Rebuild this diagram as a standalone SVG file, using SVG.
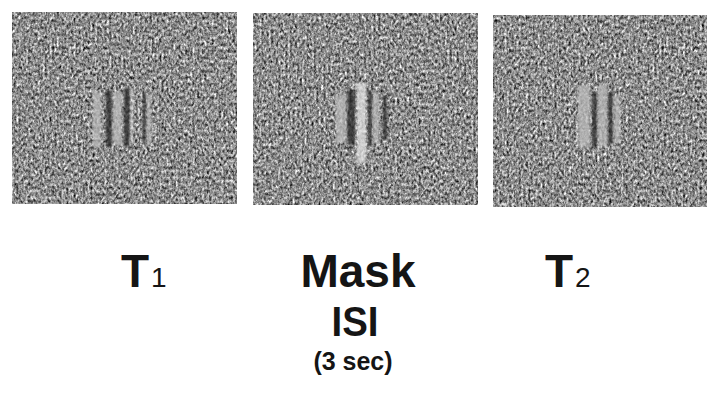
<svg xmlns="http://www.w3.org/2000/svg" width="707" height="405" viewBox="0 0 707 405">
<style>
.lbl{font-family:"Liberation Sans",Arial,Helvetica,sans-serif;font-weight:bold;fill:#151515;}
.sub{font-family:"Liberation Sans",Arial,Helvetica,sans-serif;font-weight:normal;fill:#151515;}
.dk{fill:#262626;}
.lt{fill:#bdbdbd;}
.wh{fill:#e6e6e6;}
</style>
<defs>
<filter id="noise" x="0" y="0" width="100%" height="100%" color-interpolation-filters="sRGB">
<feTurbulence type="fractalNoise" baseFrequency="0.42 0.3" numOctaves="3" seed="11"/>
<feColorMatrix type="matrix" values="0.34 0.33 0.33 0 0  0.34 0.33 0.33 0 0  0.34 0.33 0.33 0 0  0 0 0 0 1"/>
<feComponentTransfer>
<feFuncR type="linear" slope="2.1" intercept="-0.5"/>
<feFuncG type="linear" slope="2.1" intercept="-0.5"/>
<feFuncB type="linear" slope="2.1" intercept="-0.5"/>
<feFuncA type="linear" slope="0" intercept="1"/>
</feComponentTransfer>
</filter>
<filter id="soft" x="-50%" y="-10%" width="200%" height="120%">
<feGaussianBlur stdDeviation="1.1"/>
</filter>
</defs>
<rect width="707" height="405" fill="#ffffff"/>

<g id="panel-t1">
<rect x="12" y="12" width="225" height="192" fill="#8a8a8a" filter="url(#noise)"/>
<g filter="url(#soft)" opacity="0.75">
<rect class="lt" x="93" y="92" width="8" height="55"/>
<rect class="dk" x="106" y="90" width="6" height="57"/>
<rect class="lt" x="113" y="92" width="9" height="53"/>
<rect class="dk" x="124" y="88" width="6" height="58"/>
<rect class="wh" x="131" y="90" width="2" height="55"/>
<rect class="dk" x="143" y="93" width="3" height="50"/>
<rect class="lt" x="147" y="95" width="4" height="48"/>
</g>
<text class="lbl" x="121" y="287" font-size="46">T</text>
<text class="sub" x="151" y="287" font-size="28">1</text>
</g>

<g id="panel-mask">
<rect x="253" y="13" width="225" height="192" fill="#8a8a8a" filter="url(#noise)"/>
<g filter="url(#soft)" opacity="0.75">
<rect class="lt" x="336" y="95" width="10" height="48"/>
<rect class="dk" x="347" y="90" width="8" height="55"/>
<rect class="wh" x="357" y="83" width="9" height="80"/>
<rect class="dk" x="368" y="90" width="4" height="55"/>
<rect class="lt" x="373" y="93" width="6" height="50"/>
<rect class="dk" x="383" y="95" width="4" height="45"/>
</g>
<text class="lbl" x="358" y="287" font-size="46" text-anchor="middle">Mask</text>
</g>

<g id="panel-t2">
<rect x="493" y="15" width="214" height="192" fill="#8a8a8a" filter="url(#noise)"/>
<g filter="url(#soft)" opacity="0.75">
<rect class="lt" x="578" y="85" width="12" height="62"/>
<rect class="dk" x="592" y="92" width="5" height="55"/>
<rect class="lt" x="598" y="85" width="9" height="62"/>
<rect class="dk" x="608" y="92" width="5" height="52"/>
<rect class="lt" x="614" y="95" width="6" height="48"/>
</g>
<text class="lbl" x="545" y="287" font-size="46">T</text>
<text class="sub" x="575" y="287" font-size="28">2</text>
</g>

<g id="isi">
<text class="lbl" x="355" y="336" font-size="43" text-anchor="middle" textLength="47" lengthAdjust="spacingAndGlyphs">ISI</text>
<text class="lbl" x="353" y="370" font-size="25" text-anchor="middle">(3 sec)</text>
</g>
</svg>
